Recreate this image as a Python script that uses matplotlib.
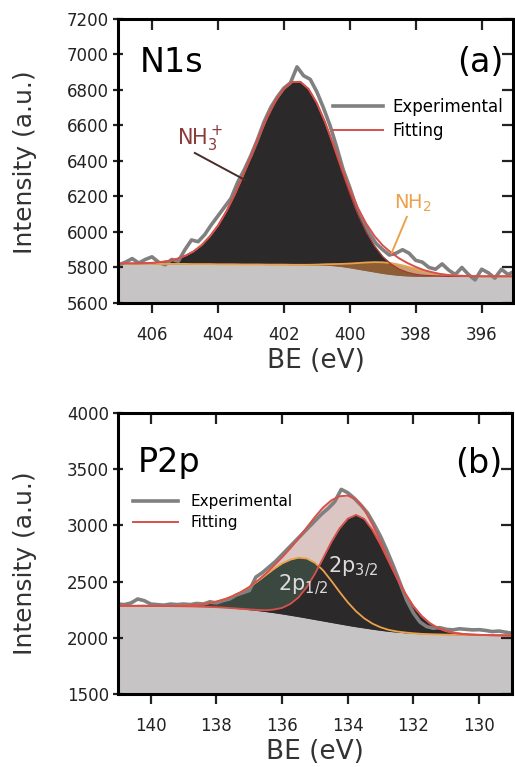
import numpy as np
import matplotlib
matplotlib.use("Agg")
import matplotlib.pyplot as plt

# ---------------- N1s data (panel a) ----------------
be_fit_a = np.arange(407.0, 394.99, -0.25)
bg_a = [5822, 5822, 5821, 5821, 5821, 5820, 5820, 5820, 5820, 5819, 5819, 5819,
        5818, 5818, 5818, 5817, 5817, 5817, 5816, 5816, 5816, 5815, 5815, 5814,
        5814, 5813, 5810, 5805, 5798, 5790, 5782, 5774, 5766, 5760, 5755, 5752,
        5750, 5750, 5750, 5750, 5750, 5750, 5750, 5750, 5750, 5750, 5750, 5750, 5750]
nh3_a = [0, 1, 2, 3, 5, 10, 17, 28, 45, 70, 106, 155,
         217, 296, 389, 495, 609, 723, 831, 923, 991, 1029, 1031, 991,
         911, 802, 675, 543, 419, 309, 218, 147, 95, 59, 35, 20,
         11, 5, 3, 1, 0, 0, 0, 0, 0, 0, 0, 0, 0]
nh2_a = [0, 0, 0, 0, 0, 0, 0, 0, 0, 0, 0, 0,
         0, 0, 0, 0, 0, 0, 0, 0, 0, 0, 0, 1,
         2, 5, 9, 15, 24, 35, 46, 56, 63, 65, 61, 53,
         42, 30, 20, 12, 7, 4, 2, 1, 0, 0, 0, 0, 0]

be_exp_a = np.arange(407.0, 394.99, -0.2)
exp_a = [5815, 5830, 5850, 5825, 5845, 5860, 5830, 5815, 5845, 5835,
         5900, 5955, 5945, 5985, 6040, 6090, 6140, 6190, 6280, 6350,
         6430, 6520, 6620, 6700, 6760, 6810, 6840, 6930, 6880, 6860,
         6790, 6700, 6600, 6480, 6350, 6250, 6140, 6060, 5990, 5935,
         5900, 5870, 5880, 5900, 5880, 5840, 5830, 5800, 5790, 5820,
         5785, 5760, 5800, 5760, 5730, 5790, 5770, 5740, 5790, 5760, 5780]

# ---------------- P2p data (panel b) ----------------
be_fit_b = np.arange(141.0, 128.99, -0.25)
bg_b = [2285, 2285, 2284, 2284, 2283, 2283, 2282, 2281, 2280, 2279, 2277, 2275,
        2272, 2268, 2263, 2257, 2250, 2242, 2233, 2223, 2212, 2200, 2188, 2175,
        2162, 2149, 2136, 2123, 2110, 2098, 2087, 2076, 2066, 2057, 2050, 2044,
        2039, 2035, 2032, 2030, 2028, 2027, 2026, 2025, 2024, 2023, 2022, 2021, 2020]
p32_b = [0, 0, 0, 0, 0, 0, 0, 0, 0, 0, 0, 0,
         0, 0, 0, 1, 2, 6, 12, 28, 54, 101, 172, 276,
         408, 561, 717, 851, 950, 995, 970, 883, 760, 619, 477, 348,
         240, 157, 97, 56, 31, 16, 8, 4, 2, 1, 0, 0, 0]
p12_b = [0, 0, 0, 1, 1, 1, 2, 4, 7, 12, 20, 32,
         50, 75, 108, 150, 200, 260, 325, 390, 450, 495, 525, 530,
         505, 450, 370, 285, 205, 138, 86, 50, 27, 13, 6, 3,
         1, 0, 0, 0, 0, 0, 0, 0, 0, 0, 0, 0, 0]

be_exp_b = np.arange(141.0, 128.99, -0.2)
exp_b = [2300, 2295, 2310, 2345, 2330, 2300, 2295, 2290, 2300, 2295,
         2300, 2295, 2305, 2300, 2320, 2310, 2330, 2345, 2380, 2400,
         2420, 2540, 2580, 2630, 2680, 2740, 2800, 2860, 2920, 2980,
         3040, 3100, 3150, 3210, 3320, 3290, 3240, 3180, 3110, 3010,
         2900, 2770, 2630, 2480, 2330, 2220, 2140, 2100, 2085, 2090,
         2075, 2070, 2080, 2075, 2070, 2072, 2065, 2055, 2060, 2050, 2040]

# colores
c_bg = "#c6c4c4"
c_dark = "#2b2929"
c_green = "#3b4840"
c_pink = "#dcc6c3"
c_exp = "#808080"
c_fit = "#d8504a"
c_orange = "#eba24a"

fig = plt.figure(figsize=(5.15, 7.67), dpi=100)
ax1 = fig.add_axes([0.2291, 0.6050, 0.7670, 0.3703])
ax2 = fig.add_axes([0.2291, 0.0952, 0.7650, 0.3664])

# ---------------- panel (a) ----------------
bg = np.array(bg_a)
nh3 = bg + np.array(nh3_a)
nh2 = bg + np.array(nh2_a)
fit = bg + np.array(nh3_a) + np.array(nh2_a)

ax1.fill_between(be_fit_a, 5600, bg, color=c_bg, lw=0, zorder=1)
ax1.fill_between(be_fit_a, bg, nh3, color=c_dark, lw=0, zorder=2)
ax1.fill_between(be_fit_a, bg, nh2, color="#b8743a", lw=0, alpha=0.7, zorder=3)
ax1.plot(be_exp_a, exp_a, color=c_exp, lw=2.6, zorder=4, label="Experimental")
ax1.plot(be_fit_a, nh2, color=c_orange, lw=1.3, zorder=5)
ax1.plot(be_fit_a, nh3, color="#a03a36", lw=1.0, zorder=5)
ax1.plot(be_fit_a, fit, color=c_fit, lw=1.4, zorder=6, label="Fitting")

ax1.set_xlim(407.03, 395.05)
ax1.set_ylim(5600, 7200)
ax1.set_xticks([406, 404, 402, 400, 398, 396])
ax1.set_yticks(np.arange(5600, 7201, 200))

ax1.text(0.056, 0.813, "N1s", transform=ax1.transAxes, fontsize=24, ha="left", va="baseline")
ax1.text(0.975, 0.813, "(a)", transform=ax1.transAxes, fontsize=24, ha="right", va="baseline")

ax1.text(404.55, 6524, r"NH$_3^+$", color="#8c3a3a", fontsize=15, ha="center", va="center")
ax1.plot([404.7, 403.18], [6445, 6293], color="#4a2a2a", lw=1.4, zorder=7)
ax1.text(398.09, 6163, r"NH$_2$", color=c_orange, fontsize=14, ha="center", va="center")
ax1.plot([398.27, 398.73], [6085, 5882], color=c_orange, lw=1.4, zorder=7)

ax1.legend(loc="upper left", bbox_to_anchor=(0.544, 0.722), frameon=False,
           borderpad=0, borderaxespad=0, fontsize=12, handlelength=3.0,
           handletextpad=0.55, labelspacing=0.34)

# ---------------- panel (b) ----------------
bgb = np.array(bg_b)
p32 = bgb + np.array(p32_b)
p12 = bgb + np.array(p12_b)
fitb = bgb + np.array(p32_b) + np.array(p12_b)

ax2.fill_between(be_fit_b, 1500, bgb, color=c_bg, lw=0, zorder=1)
ax2.fill_between(be_fit_b, bgb, fitb, color=c_pink, lw=0, zorder=2)
ax2.fill_between(be_fit_b, bgb, p12, color=c_green, lw=0, zorder=3)
ax2.fill_between(be_fit_b, bgb, p32, color=c_dark, lw=0, zorder=3)
ax2.plot(be_exp_b, exp_b, color=c_exp, lw=2.6, zorder=4, label="Experimental")
ax2.plot(be_fit_b, p12, color=c_orange, lw=1.3, zorder=5)
ax2.plot(be_fit_b, p32, color=c_fit, lw=1.3, zorder=5)
ax2.plot(be_fit_b, fitb, color=c_fit, lw=1.4, zorder=6, label="Fitting")

ax2.set_xlim(141.0, 129.0)
ax2.set_ylim(1500, 4000)
ax2.set_xticks([140, 138, 136, 134, 132, 130])
ax2.set_yticks(np.arange(1500, 4001, 500))

ax2.text(0.051, 0.79, "P2p", transform=ax2.transAxes, fontsize=24, ha="left", va="baseline")
ax2.text(0.975, 0.786, "(b)", transform=ax2.transAxes, fontsize=24, ha="right", va="baseline")

ax2.text(135.36, 2470, r"2p$_{1/2}$", color="#dcdcdc", fontsize=15, ha="center", va="center", zorder=8)
ax2.text(133.85, 2630, r"2p$_{3/2}$", color="#dcdcdc", fontsize=15, ha="center", va="center", zorder=8)

ax2.legend(loc="upper left", bbox_to_anchor=(0.038, 0.712), frameon=False,
           borderpad=0, borderaxespad=0, fontsize=11, handlelength=2.95,
           handletextpad=0.8, labelspacing=0.41)

# ---------------- ejes ----------------
for ax, ylab_y in [(ax1, 0.495), (ax2, 0.465)]:
    for s in ax.spines.values():
        s.set_linewidth(2.2)
        s.set_zorder(10)
    ax.tick_params(axis="x", which="major", direction="out", length=7.5, width=1.6,
                   labelsize=12, pad=9, colors="#222222")
    ax.tick_params(axis="y", which="major", direction="inout", length=7, width=1.6,
                   labelsize=12, pad=3, colors="#222222")
    ax.tick_params(top=True, right=True)
    ax.set_xlabel("BE (eV)", fontsize=19, color="#333333")
    ax.set_ylabel("Intensity (a.u.)", fontsize=18, color="#333333")
    ax.xaxis.set_label_coords(0.5, -0.16)
    ax.yaxis.set_label_coords(-0.205, ylab_y)
    # ticks de arriba y derecha hacia adentro
    for t in ax.xaxis.get_major_ticks():
        t.tick2line.set_marker(3)
        t.tick2line.set_markersize(8)
    for t in ax.yaxis.get_major_ticks():
        t.tick2line.set_marker(0)
        t.tick2line.set_markersize(8)

fig.savefig("out.png", dpi=100)
